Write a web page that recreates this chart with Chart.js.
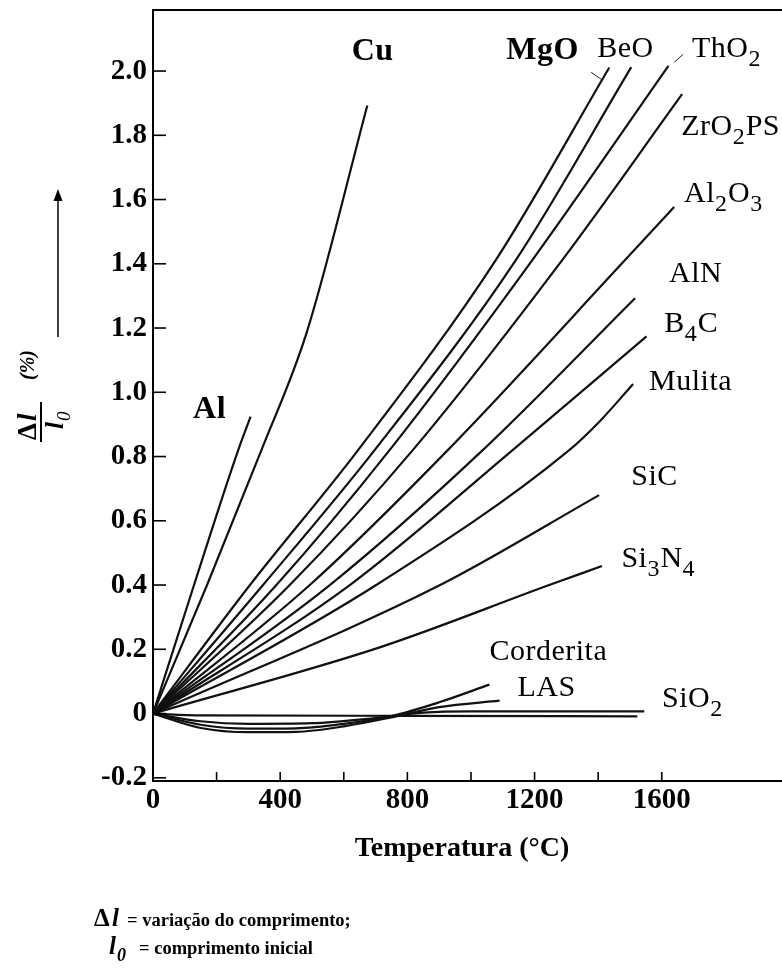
<!DOCTYPE html>
<html>
<head>
<meta charset="utf-8">
<script src="https://cdn.jsdelivr.net/npm/chart.js@4/dist/chart.umd.min.js"></script>
<style>
  html, body { margin: 0; background: #fff; }
  canvas { display: block; }
</style>
</head>
<body>
<canvas id="dilatChart" width="782" height="972"></canvas>
<script>
/* globals Chart:false */

// thermal expansion curves, [temperature °C, Δl/l0 %]
const cu = [[0, 0], [170, 0.40], [341, 0.82], [483, 1.185], [674, 1.893]];
const al = [[0, 0], [129, 0.40], [268, 0.82], [307, 0.924]];
const mgo = [[0, 0], [305, 0.40], [645, 0.82], [1079, 1.413], [1435, 2.011]];
const beo = [[0, 0], [346, 0.40], [697, 0.82], [1142, 1.413], [1504, 2.012]];
const tho2 = [[0, 0], [388, 0.40], [744, 0.82], [1194, 1.413], [1621, 2.016]];
const zro2 = [[0, 0], [430, 0.40], [817, 0.82], [1288, 1.413], [1664, 1.928]];
const al2o3 = [[0, 0], [493, 0.40], [927, 0.82], [1486, 1.413], [1639, 1.577]];
const aln = [[0, 0], [556, 0.40], [1037, 0.82], [1516, 1.293]];
const b4c = [[0, 0], [619, 0.40], [1131, 0.82], [1552, 1.174]];
const mulita = [[0, 0], [702, 0.40], [1309, 0.82], [1409, 0.914], [1510, 1.026]];
const sic = [[0, 0], [903, 0.40], [1403, 0.68]];
const si3n4 = [[0, 0], [713, 0.206], [1246, 0.40], [1412, 0.459]];
const corderita = [[0, 0], [150, -0.035], [300, -0.047], [450, -0.046], [600, -0.032], [750, -0.008], [900, 0.035], [1058, 0.09]];
const las = [[0, 0], [150, -0.045], [300, -0.058], [450, -0.057], [600, -0.04], [750, -0.012], [900, 0.02], [1090, 0.04]];
const sio2a = [[0, 0], [150, -0.006], [800, -0.007], [1523, -0.009]];
const sio2b = [[0, 0], [150, -0.024], [300, -0.032], [500, -0.03], [700, -0.014], [850, 0.003], [1000, 0.007], [1545, 0.007]];
// small label leaders
const mgoLeader = [[1378, 1.996], [1410, 1.974]];
const tho2Leader = [[1639, 2.027], [1667, 2.052]];

const curves = [cu, al, mgo, beo, tho2, zro2, al2o3, aln, b4c, mulita, sic, si3n4, corderita, las, sio2a, sio2b];

const xTicks = [0, 200, 400, 600, 800, 1000, 1200, 1400, 1600];
const xLabelled = [0, 400, 800, 1200, 1600];
const yTicks = [-0.2, 0, 0.2, 0.4, 0.6, 0.8, 1.0, 1.2, 1.4, 1.6, 1.8, 2.0];

// curve names, '_' = next char is a subscript; anchor = left/baseline in data units
const curveLabels = [
  { text: 'Cu', at: [625, 2.034], bold: true },
  { text: 'Al', at: [126, 0.920], bold: true },
  { text: 'MgO', at: [1111, 2.037], bold: true },
  { text: 'BeO', at: [1397, 2.043] },
  { text: 'ThO_2', at: [1695, 2.043] },
  { text: 'ZrO_2PS', at: [1661, 1.80] },
  { text: 'Al_2O_3', at: [1670, 1.591] },
  { text: 'AlN', at: [1623, 1.344] },
  { text: 'B_4C', at: [1608, 1.188] },
  { text: 'Mulita', at: [1560, 1.007] },
  { text: 'SiC', at: [1504, 0.711] },
  { text: 'Si_3N_4', at: [1473, 0.455] },
  { text: 'Corderita', at: [1058, 0.168] },
  { text: 'LAS', at: [1146, 0.056] },
  { text: 'SiO_2', at: [1601, 0.019] }
];

const FONT = '"Liberation Serif", "Times New Roman", serif';

function drawRich(ctx, str, x, y, size, weight) {
  let cx = x;
  for (let i = 0; i < str.length; i++) {
    let ch = str[i];
    let sub = false;
    if (ch === '_') { sub = true; ch = str[++i]; }
    ctx.font = `${weight} ${sub ? Math.round(size * 0.8) : size}px ${FONT}`;
    ctx.fillText(ch, cx, sub ? y + 9 : y);
    cx += ctx.measureText(ch).width + (sub ? 1 : 0.5);
  }
}

function seg(ctx, x1, y1, x2, y2) {
  ctx.beginPath();
  ctx.moveTo(x1, y1);
  ctx.lineTo(x2, y2);
  ctx.stroke();
}

const decor = {
  id: 'decor',
  afterDraw(chart) {
    const { ctx, chartArea: a } = chart;
    const x = chart.scales.x;
    const y = chart.scales.y;
    ctx.save();
    ctx.strokeStyle = '#000';
    ctx.fillStyle = '#000';

    // top frame line
    ctx.lineWidth = 2;
    seg(ctx, a.left - 1, a.top, a.right + 2, a.top);

    // ticks point into the plot
    ctx.lineWidth = 1.6;
    y.ticks.forEach(t => {
      const py = y.getPixelForValue(t.value);
      seg(ctx, a.left, py, a.left + 13, py);
    });
    x.ticks.forEach(t => {
      if (t.value === 0) return;
      const px = x.getPixelForValue(t.value);
      seg(ctx, px, a.bottom, px, a.bottom - 9);
    });

    // curve names
    ctx.textAlign = 'left';
    ctx.textBaseline = 'alphabetic';
    curveLabels.forEach(l => {
      drawRich(ctx, l.text, x.getPixelForValue(l.at[0]), y.getPixelForValue(l.at[1]),
        l.bold ? 32 : 30, l.bold ? 'bold' : 'normal');
    });

    // y title: Δl / l0 (%) rotated, with an arrow
    ctx.lineWidth = 1.5;
    seg(ctx, 58, 337, 58, 198);
    ctx.beginPath();
    ctx.moveTo(58, 189);
    ctx.lineTo(53.5, 201);
    ctx.lineTo(62.5, 201);
    ctx.closePath();
    ctx.fill();

    ctx.save();
    ctx.translate(42, 420);
    ctx.rotate(-Math.PI / 2);
    ctx.textAlign = 'left';
    ctx.font = `bold 27px ${FONT}`;
    ctx.fillText('\u0394', -20, -6);
    ctx.font = `italic bold 27px ${FONT}`;
    ctx.fillText('l', -1, -6);
    ctx.fillRect(-22, -2, 40, 2);
    ctx.font = `italic bold 25px ${FONT}`;
    ctx.fillText('l', -9, 21);
    ctx.font = `italic 19px ${FONT}`;
    ctx.fillText('0', -1, 28);
    ctx.font = `italic bold 20px ${FONT}`;
    ctx.fillText('(%)', 40, -8);
    ctx.restore();

    // x title
    ctx.textAlign = 'center';
    ctx.font = `bold 28px ${FONT}`;
    ctx.fillText('Temperatura (\u00B0C)', 462, 856);

    // legend notes
    ctx.textAlign = 'left';
    ctx.font = `bold 25px ${FONT}`;
    ctx.fillText('\u0394', 94, 926);
    ctx.font = `italic bold 25px ${FONT}`;
    ctx.fillText('l', 112, 926);
    ctx.font = `bold 18.5px ${FONT}`;
    ctx.fillText('= varia\u00E7\u00E3o do comprimento;', 127, 926);

    ctx.font = `italic bold 25px ${FONT}`;
    ctx.fillText('l', 109, 954);
    ctx.font = `italic bold 18px ${FONT}`;
    ctx.fillText('0', 117, 961);
    ctx.font = `bold 18.5px ${FONT}`;
    ctx.fillText('= comprimento inicial', 139, 954);

    ctx.restore();
  }
};

(() => {
  'use strict'

  const ctx = document.getElementById('dilatChart');

  const lineStyle = {
    borderColor: '#111',
    backgroundColor: 'transparent',
    borderWidth: 2.2,
    pointRadius: 0,
    cubicInterpolationMode: 'monotone'
  };

  const datasets = curves.map(c => Object.assign({
    data: c.map(p => ({ x: p[0], y: p[1] }))
  }, lineStyle));
  [mgoLeader, tho2Leader].forEach(c => datasets.push({
    data: c.map(p => ({ x: p[0], y: p[1] })),
    borderColor: '#222',
    borderWidth: 1,
    pointRadius: 0
  }));

  // eslint-disable-next-line no-unused-vars
  const myChart = new Chart(ctx, {
    type: 'line',
    data: { datasets: datasets },
    plugins: [decor],
    options: {
      responsive: false,
      animation: false,
      devicePixelRatio: 1,
      layout: { padding: { top: 10, right: 1, left: 0, bottom: 0 } },
      plugins: {
        legend: { display: false },
        tooltip: { enabled: false }
      },
      scales: {
        x: {
          type: 'linear',
          min: 0,
          max: 1975,
          grid: { display: false, drawTicks: false },
          border: { display: true, color: '#000', width: 2 },
          afterBuildTicks: s => { s.ticks = xTicks.map(v => ({ value: v })); },
          afterFit: s => { s.height = 191; s.paddingLeft = 0; s.paddingRight = 0; },
          ticks: {
            color: '#000',
            padding: 2,
            maxRotation: 0,
            autoSkip: false,
            font: { family: FONT, size: 29, weight: 'bold' },
            callback: v => (xLabelled.includes(v) ? String(v) : '')
          }
        },
        y: {
          min: -0.21,
          max: 2.19,
          grid: { display: false, drawTicks: false },
          border: { display: true, color: '#000', width: 2 },
          afterBuildTicks: s => { s.ticks = yTicks.map(v => ({ value: v })); },
          afterFit: s => { s.width = 153; s.paddingTop = 0; s.paddingBottom = 0; },
          ticks: {
            color: '#000',
            padding: 6,
            autoSkip: false,
            font: { family: FONT, size: 29, weight: 'bold' },
            callback: v => (v === 0 ? '0' : v.toFixed(1))
          }
        }
      }
    }
  });
})();
</script>
</body>
</html>
